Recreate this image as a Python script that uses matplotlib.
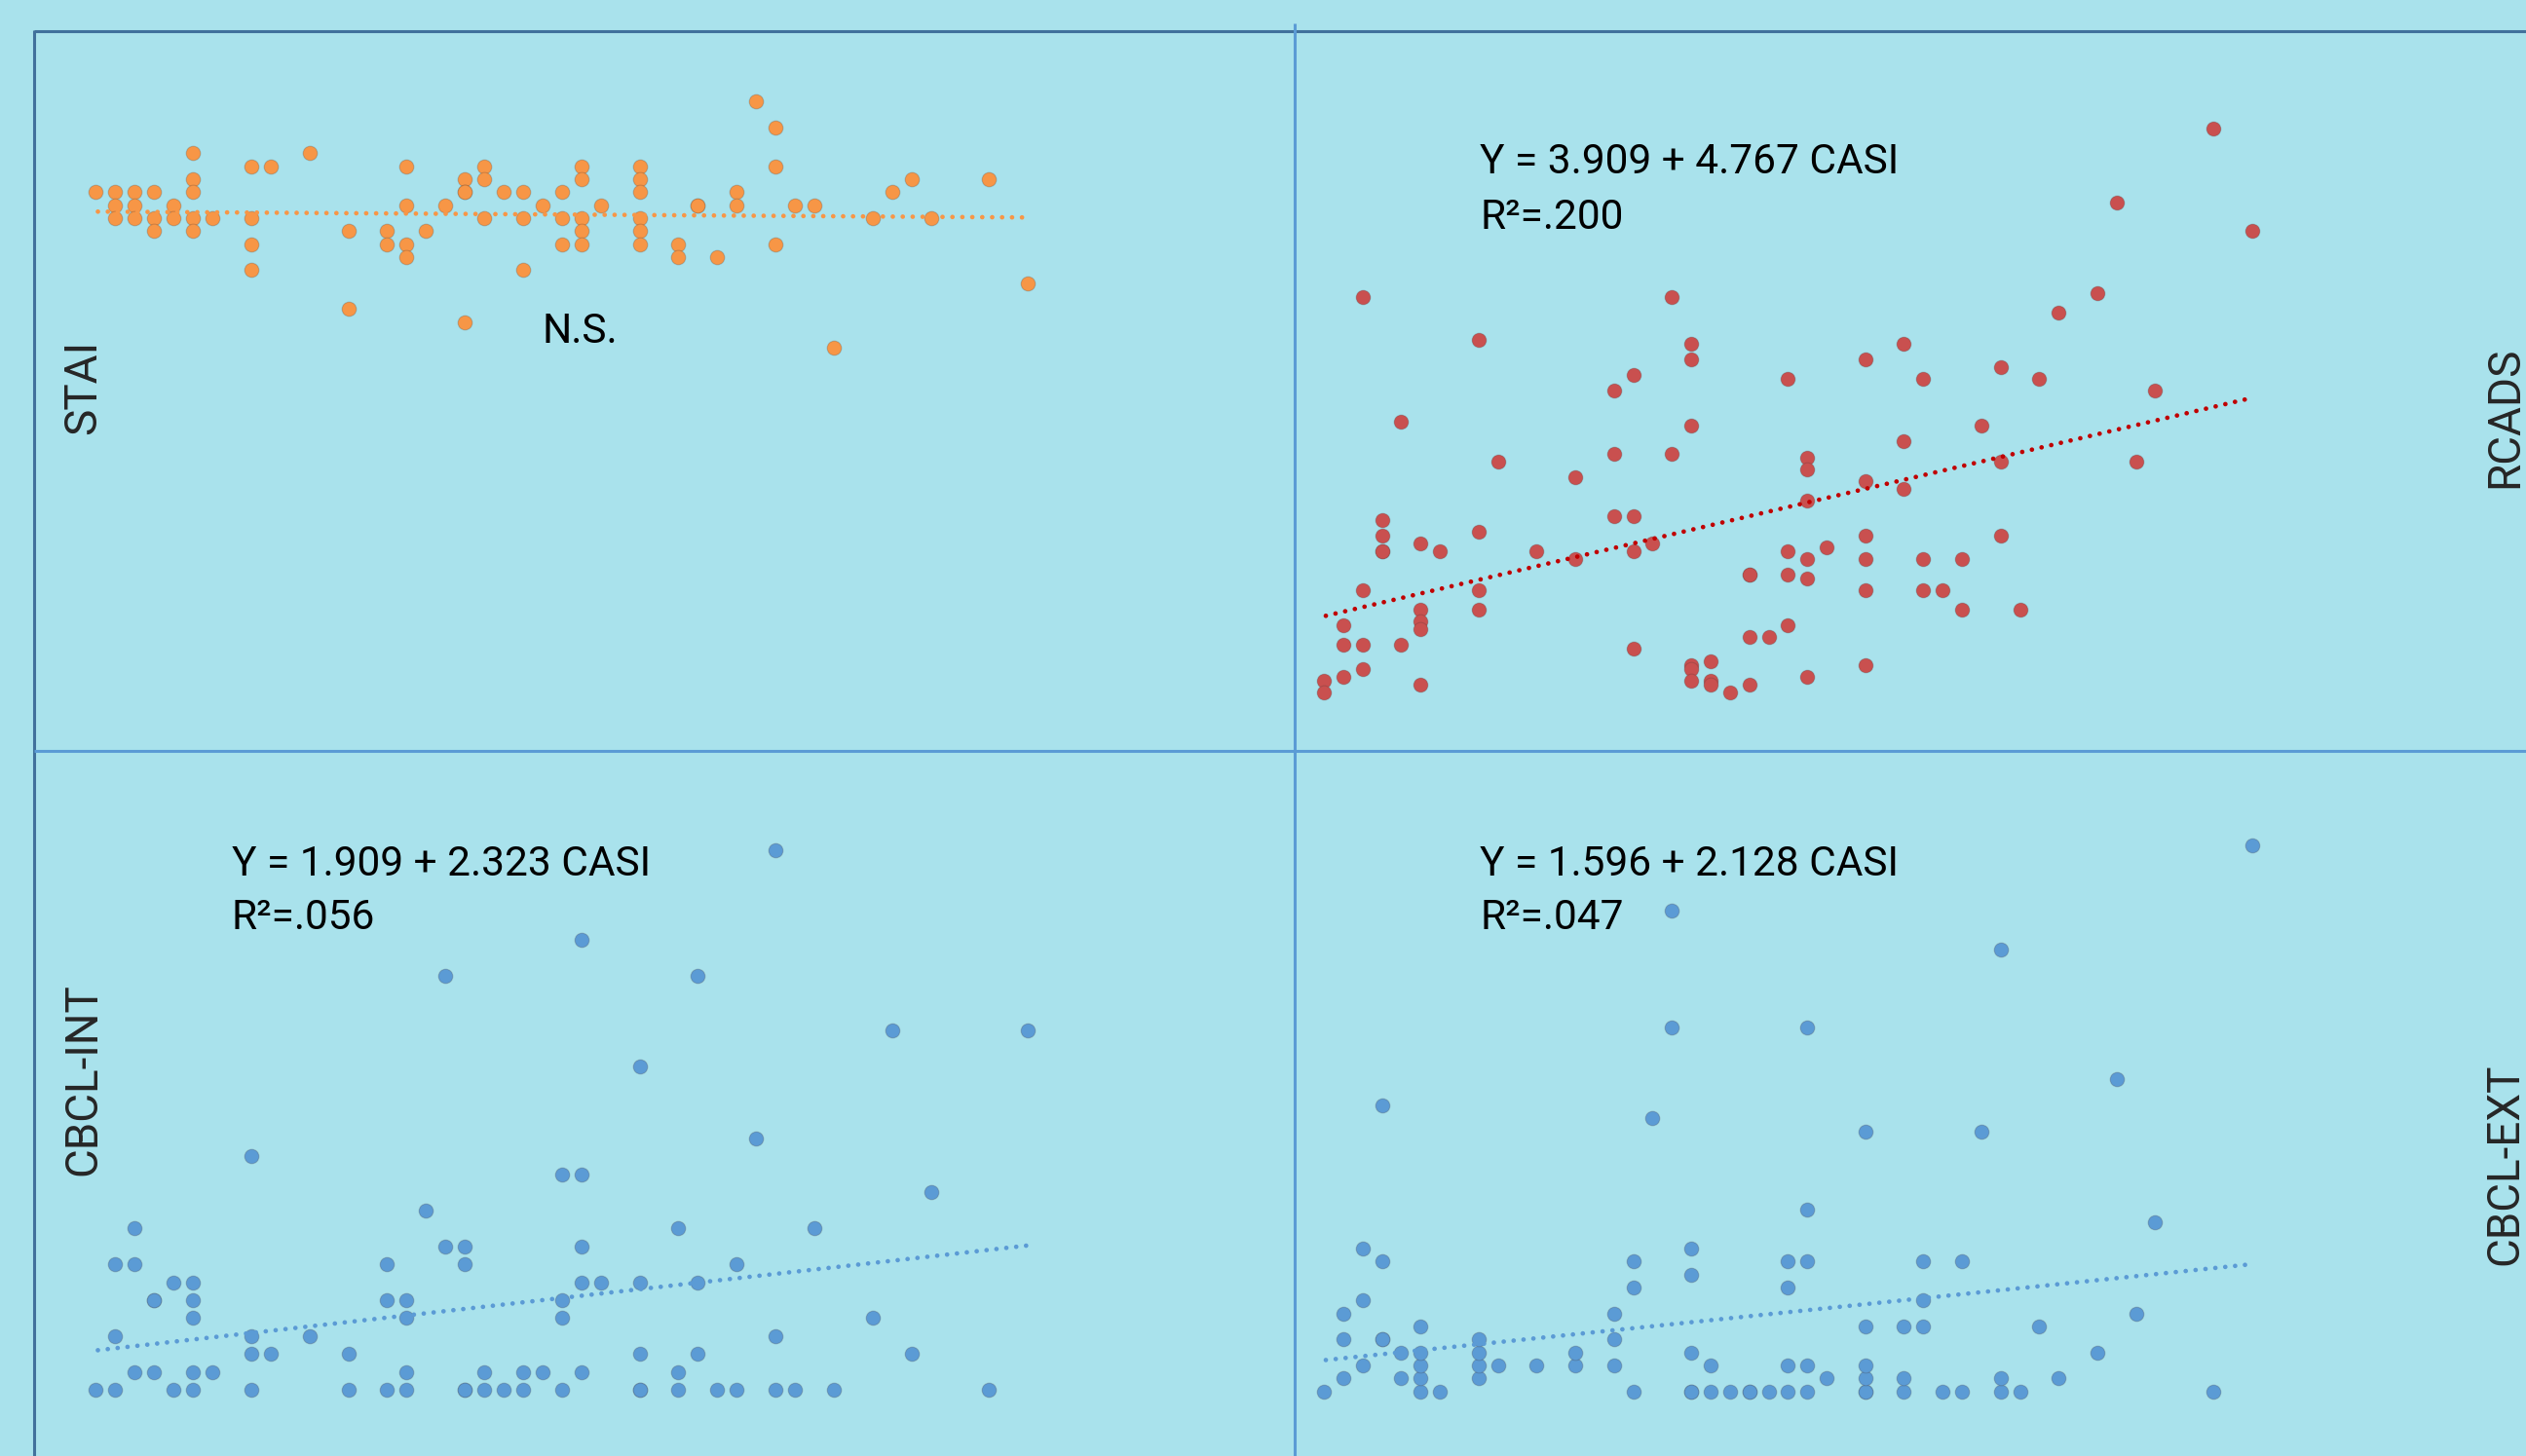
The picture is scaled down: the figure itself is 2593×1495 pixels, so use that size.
import matplotlib
matplotlib.use("Agg")
import matplotlib.pyplot as plt
from matplotlib.lines import Line2D

# ---------------- data ----------------
stai_casi = [0, 1, 1, 1, 2, 2, 2, 3, 3, 3, 4, 4, 5, 5, 5, 5, 5, 6, 8, 8, 8, 8, 9, 11,
             13, 13, 15, 15, 16, 16, 16, 16, 17, 18, 19, 19, 19, 19, 20, 20, 20, 21,
             22, 22, 22, 23, 24, 24, 24, 25, 25, 25, 25, 25, 26, 28, 28, 28, 28, 28, 28,
             30, 30, 31, 31, 32, 33, 33, 34, 35, 35, 35, 36, 37, 38, 40, 41, 42, 43, 46, 48]
stai_score = [50, 50, 49, 48, 50, 49, 48, 50, 48, 47, 49, 48, 53, 51, 50, 48, 47, 48, 52, 48, 46, 44, 52, 53,
              47, 41, 47, 46, 52, 49, 46, 45, 47, 49, 51, 50, 50, 40, 52, 51, 48, 50,
              50, 48, 44, 49, 50, 48, 46, 52, 51, 48, 47, 46, 49, 52, 51, 50, 48, 47, 46,
              46, 45, 49, 49, 45, 50, 49, 57, 55, 52, 46, 49, 49, 38, 48, 50, 51, 48, 51, 43]

rcads_casi = [0, 0, 1, 1, 1, 2, 2, 2, 2, 3, 3, 3, 3, 4, 4, 5, 5, 5, 5, 5, 6, 8, 8, 8, 8, 9, 11,
              13, 13, 15, 15, 15, 16, 16, 16, 16, 17, 18, 18, 19, 19, 19, 19, 19, 19,
              20, 20, 20, 21, 22, 22, 22, 22, 23, 24, 24, 24, 24, 25, 25, 25, 25, 25, 25, 26,
              28, 28, 28, 28, 28, 28, 30, 30, 30, 31, 31, 31, 32, 33, 33, 34, 35, 35, 35,
              36, 37, 38, 40, 41, 42, 43, 46, 48]
rcads_score = [5, 2, 19, 14, 6, 103, 28, 14, 8, 46, 42, 38, 38, 71, 14, 40, 23, 20, 18, 4, 38, 92, 43, 28, 23, 61, 38,
               57, 36, 79, 63, 47, 83, 47, 38, 13, 40, 103, 63, 91, 87, 70, 9, 8, 5,
               10, 5, 4, 2, 32, 32, 16, 4, 16, 82, 38, 32, 19, 62, 59, 51, 36, 31, 6, 39,
               87, 56, 42, 36, 28, 9, 91, 66, 54, 82, 36, 28, 28, 36, 23, 70, 85, 61, 42,
               23, 82, 99, 104, 127, 61, 79, 146, 120]

int_casi = [0, 1, 1, 1, 2, 2, 2, 3, 3, 3, 4, 4, 5, 5, 5, 5, 5, 6, 8, 8, 8, 8, 9, 11,
            13, 13, 15, 15, 15, 16, 16, 16, 16, 17, 18, 18, 19, 19, 19, 19, 20, 20, 21,
            22, 22, 23, 24, 24, 24, 24, 25, 25, 25, 25, 25, 26, 28, 28, 28, 28, 28,
            30, 30, 30, 31, 31, 31, 32, 33, 33, 34, 35, 35, 35, 36, 37, 38, 40, 41, 42, 43, 46, 48]
int_score = [0, 0, 3, 7, 1, 7, 9, 1, 5, 5, 0, 6, 0, 1, 4, 5, 6, 1, 0, 2, 3, 13, 2, 3,
             0, 2, 0, 5, 7, 0, 1, 4, 5, 10, 8, 23, 0, 0, 7, 8, 0, 1, 0,
             0, 1, 1, 0, 4, 5, 12, 1, 6, 8, 12, 25, 6, 0, 0, 2, 6, 18,
             0, 1, 9, 2, 6, 23, 0, 0, 7, 14, 0, 3, 30, 0, 9, 0, 4, 20, 2, 11, 0, 20]

ext_casi = [0, 1, 1, 1, 2, 2, 2, 3, 3, 3, 3, 4, 4, 5, 5, 5, 5, 5, 6, 8, 8, 8, 8, 9, 11,
            13, 13, 15, 15, 15, 16, 16, 16, 17, 18, 18, 19, 19, 19, 19, 19, 20, 20, 21,
            22, 22, 23, 24, 24, 24, 24, 25, 25, 25, 25, 25, 26, 28, 28, 28, 28, 28, 28,
            30, 30, 30, 31, 31, 31, 32, 33, 33, 34, 35, 35, 35, 36, 37, 38, 40, 41, 42, 43, 46, 48]
ext_score = [0, 1, 4, 6, 2, 7, 11, 4, 4, 10, 22, 1, 3, 0, 1, 2, 3, 5, 0, 1, 2, 3, 4, 2, 2,
             2, 3, 2, 4, 6, 0, 8, 10, 21, 28, 37, 0, 0, 3, 9, 11, 0, 2, 0,
             0, 0, 0, 0, 2, 8, 10, 0, 2, 10, 14, 28, 1, 0, 0, 1, 2, 5, 20,
             0, 1, 5, 5, 7, 10, 0, 0, 10, 20, 0, 1, 34, 0, 5, 1, 3, 24, 6, 13, 0, 42]

trend_casi = [0.1, 48]
stai_trend = [48.5, 48.05]
rcads_trend = [21.5, 77.2]
int_trend = [2.22, 8.04]
ext_trend = [2.41, 9.79]

labels = ["STAI", "RCADS", "CBCL-INT", "CBCL-EXT"]
equations = [None, ("Y = 3.909 + 4.767 CASI", "R²=.200"),
             ("Y = 1.909 + 2.323 CASI", "R²=.056"),
             ("Y = 1.596 + 2.128 CASI", "R²=.047")]

# ---------------- styling ----------------
W, H, DPI = 2593, 1495, 100
BG = "#A9E2EC"
ORANGE, RED, BLUE = "#F79646", "#C9504F", "#5B9BD5"
RED_LINE = "#C00000"
FRAME_DARK, FRAME_LIGHT = "#41719C", "#5B9BD5"
EQ_FONT = ["Roboto", "DejaVu Sans"]
LAB_FONT = ["Liberation Sans Narrow", "Roboto", "DejaVu Sans"]

fig = plt.figure(figsize=(W / DPI, H / DPI), dpi=DPI, facecolor=BG)


def px_axes(x0, y0, x1, y1):
    ax = fig.add_axes([x0 / W, 1 - y1 / H, (x1 - x0) / W, (y1 - y0) / H])
    ax.set_facecolor("none")
    ax.axis("off")
    return ax


panels = [
    (px_axes(35, 30, 1328, 771), stai_casi, stai_score, stai_trend, ORANGE, ORANGE,
     (-3.186, 61.69), (6.96, 62.55)),
    (px_axes(1328, 30, 2593, 771), rcads_casi, rcads_score, rcads_trend, RED, RED_LINE,
     (-1.562, 62.17), (-13.02, 171.4)),
    (px_axes(35, 771, 1328, 1495), int_casi, int_score, int_trend, BLUE, BLUE,
     (-3.186, 61.69), (-3.658, 35.52)),
    (px_axes(1328, 771, 2593, 1495), ext_casi, ext_score, ext_trend, BLUE, BLUE,
     (-1.562, 62.17), (-4.978, 49.30)),
]

for ax, xs, ys, tr, col, lcol, xl, yl in panels:
    ax.set_xlim(*xl)
    ax.set_ylim(*yl)
    ax.scatter(xs, ys, s=112, c=col, edgecolors=(0.25, 0.2, 0.2, 0.22),
               linewidths=0.8, zorder=2, clip_on=False)
    ax.plot(trend_casi, tr, color=lcol, lw=3.4, linestyle=(0, (0.01, 2.15)),
            dash_capstyle="round", zorder=3)

# frame lines
def fline(x0, y0, x1, y1, color):
    fig.add_artist(Line2D([x0 / W, x1 / W], [1 - y0 / H, 1 - y1 / H],
                          transform=fig.transFigure, color=color, lw=2.2,
                          solid_capstyle="butt"))

fline(35, 32.3, W, 32.3, FRAME_DARK)
fline(35.3, 31, 35.3, H, FRAME_DARK)
fline(1328.6, 24, 1328.6, H, FRAME_LIGHT)
fline(35, 771, W, 771, FRAME_LIGHT)

# equation texts
eq_pos = [None, (1519, 178.5, 234.6), (237.7, 899, 954.5), (1519, 899, 954.5)]
for eq, pos in zip(equations, eq_pos):
    if eq is None:
        continue
    x, b1, b2 = pos
    fig.text(x / W, 1 - b1 / H, eq[0], fontsize=30.5, family=EQ_FONT,
             ha="left", va="baseline", color="black")
    fig.text(x / W, 1 - b2 / H, eq[1], fontsize=30.5, family=EQ_FONT,
             ha="left", va="baseline", color="black")

fig.text(557 / W, 1 - 351.7 / H, "N.S.", fontsize=30.5, family=EQ_FONT,
         ha="left", va="baseline", color="black")

# side labels
lab_pos = [(85, 397), (2571, 428), (85, 1108), (2571, 1195)]
for lab, (x, y) in zip(labels, lab_pos):
    fig.text(x / W, 1 - y / H, lab, fontsize=33, family=LAB_FONT, rotation=90,
             ha="center", va="center", color="#262626")

fig.savefig("out.png", dpi=DPI, facecolor=BG)
